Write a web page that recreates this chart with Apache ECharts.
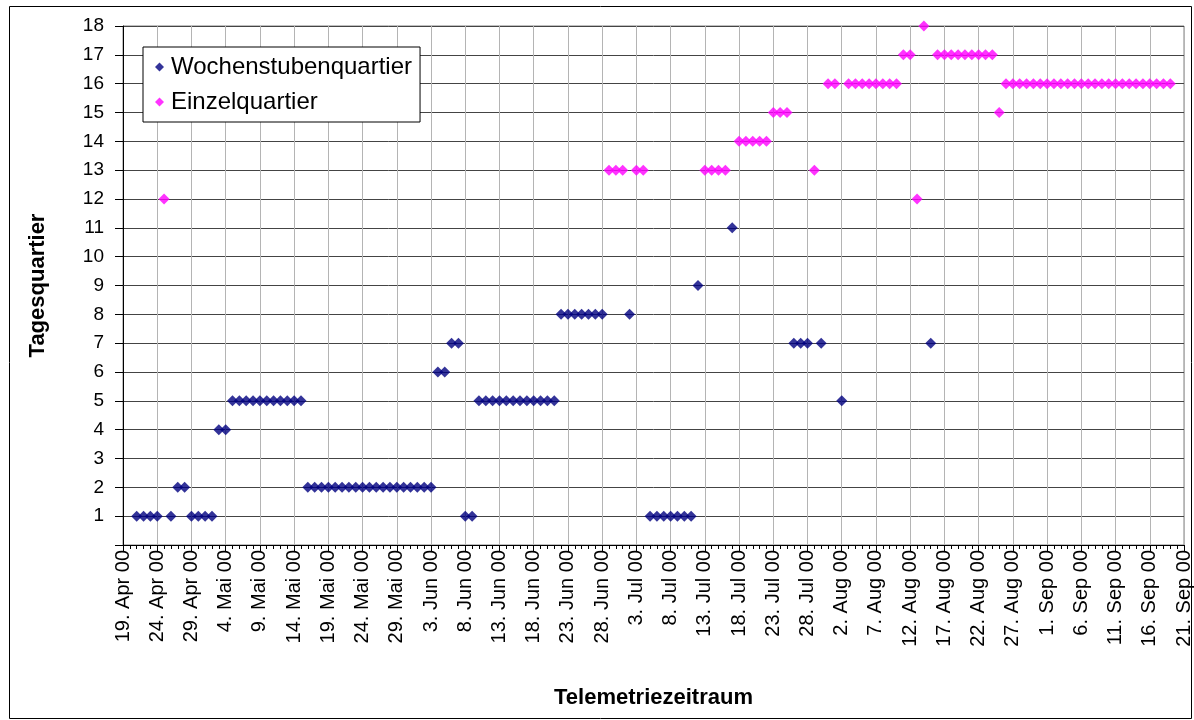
<!DOCTYPE html>
<html>
<head>
<meta charset="utf-8">
<script src="https://cdn.jsdelivr.net/npm/echarts@6/dist/echarts.min.js"></script>
<style>
html,body{margin:0;padding:0;background:#fff;}
#c{width:1194px;height:720px;}
</style>
</head>
<body>
<div id="c"></div>
<script>
// ---- data ----
const startDate = '2000-04-19';
const endDate = '2000-09-21';
const monthNames = ['Jan','Feb','Mär','Apr','Mai','Jun','Jul','Aug','Sep','Okt','Nov','Dez'];

const wochenDates = [
  '2000-04-21','2000-04-22','2000-04-23','2000-04-24','2000-04-26','2000-04-27','2000-04-28',
  '2000-04-29','2000-04-30','2000-05-01','2000-05-02','2000-05-03','2000-05-04',
  '2000-05-05','2000-05-06','2000-05-07','2000-05-08','2000-05-09','2000-05-10','2000-05-11',
  '2000-05-12','2000-05-13','2000-05-14','2000-05-15',
  '2000-05-16','2000-05-17','2000-05-18','2000-05-19','2000-05-20','2000-05-21','2000-05-22',
  '2000-05-23','2000-05-24','2000-05-25','2000-05-26','2000-05-27','2000-05-28','2000-05-29',
  '2000-05-30','2000-05-31','2000-06-01','2000-06-02','2000-06-03',
  '2000-06-04','2000-06-05','2000-06-06','2000-06-07','2000-06-08','2000-06-09',
  '2000-06-10','2000-06-11','2000-06-12','2000-06-13','2000-06-14','2000-06-15','2000-06-16',
  '2000-06-17','2000-06-18','2000-06-19','2000-06-20','2000-06-21',
  '2000-06-22','2000-06-23','2000-06-24','2000-06-25','2000-06-26','2000-06-27','2000-06-28',
  '2000-07-02',
  '2000-07-05','2000-07-06','2000-07-07','2000-07-08','2000-07-09','2000-07-10','2000-07-11',
  '2000-07-12','2000-07-17',
  '2000-07-26','2000-07-27','2000-07-28','2000-07-30','2000-08-02','2000-08-15'
];
const wochenValues = [
  1,1,1,1,1,2,2,
  1,1,1,1,4,4,
  5,5,5,5,5,5,5,
  5,5,5,5,
  2,2,2,2,2,2,2,
  2,2,2,2,2,2,2,
  2,2,2,2,2,
  6,6,7,7,1,1,
  5,5,5,5,5,5,5,
  5,5,5,5,5,
  8,8,8,8,8,8,8,
  8,
  1,1,1,1,1,1,1,
  9,11,
  7,7,7,7,5,7
];

const einzelDates = [
  '2000-04-25',
  '2000-06-29','2000-06-30','2000-07-01','2000-07-03','2000-07-04',
  '2000-07-13','2000-07-14','2000-07-15','2000-07-16',
  '2000-07-18','2000-07-19','2000-07-20','2000-07-21','2000-07-22',
  '2000-07-23','2000-07-24','2000-07-25','2000-07-29',
  '2000-07-31','2000-08-01',
  '2000-08-03','2000-08-04','2000-08-05','2000-08-06','2000-08-07','2000-08-08','2000-08-09','2000-08-10',
  '2000-08-11','2000-08-12','2000-08-13','2000-08-14',
  '2000-08-16','2000-08-17','2000-08-18','2000-08-19','2000-08-20','2000-08-21','2000-08-22','2000-08-23','2000-08-24',
  '2000-08-25',
  '2000-08-26','2000-08-27','2000-08-28','2000-08-29','2000-08-30','2000-08-31',
  '2000-09-01','2000-09-02','2000-09-03','2000-09-04','2000-09-05','2000-09-06','2000-09-07',
  '2000-09-08','2000-09-09','2000-09-10','2000-09-11','2000-09-12','2000-09-13','2000-09-14',
  '2000-09-15','2000-09-16','2000-09-17','2000-09-18','2000-09-19'
];
const einzelValues = [
  12,
  13,13,13,13,13,
  13,13,13,13,
  14,14,14,14,14,
  15,15,15,13,
  16,16,
  16,16,16,16,16,16,16,16,
  17,17,12,18,
  17,17,17,17,17,17,17,17,17,
  15,
  16,16,16,16,16,16,
  16,16,16,16,16,16,16,
  16,16,16,16,16,16,16,
  16,16,16,16,16
];

const yTicks = [0,1,2,3,4,5,6,7,8,9,10,11,12,13,14,15,16,17,18];

// ---- helpers ----
function toUTC(s){ const p = s.split('-').map(Number); return Date.UTC(p[0], p[1]-1, p[2]); }
const t0 = toUTC(startDate);
function dayIndex(s){ return Math.round((toUTC(s) - t0) / 86400000); }
function pairs(dates, vals){ return dates.map((d,i)=>[dayIndex(d), vals[i]]); }
function fmtDay(v){
  const d = new Date(t0 + v*86400000);
  return d.getUTCDate() + '. ' + monthNames[d.getUTCMonth()] + ' 00';
}

const FONT = '"Liberation Sans", Arial, sans-serif';
const chart = echarts.init(document.getElementById('c'), null, {renderer:'canvas'});
chart.setOption({
  backgroundColor:'#fff',
  animation:false,
  textStyle:{fontFamily:FONT},
  graphic:[{
    type:'rect', shape:{x:9.5, y:6.5, width:1182, height:712},
    style:{fill:'none', stroke:'#000', lineWidth:1}, silent:true, z:-10
  }],
  grid:{left:123, top:26, right:10, bottom:175, containLabel:false, outerBoundsMode:'none',
        show:true, borderColor:'#808080', borderWidth:1},
  legend:{
    orient:'vertical', left:143, top:47,
    backgroundColor:'#fff', borderColor:'#000', borderWidth:1, borderRadius:0,
    padding:[8,8,8,12], itemGap:11, itemWidth:9, itemHeight:9,
    textStyle:{fontSize:24, color:'#000', fontFamily:FONT, padding:[0,0,0,2]},
    data:[{name:'Wochenstubenquartier', icon:'diamond'},{name:'Einzelquartier', icon:'diamond'}]
  },
  xAxis:{
    type:'value', min:0, max:dayIndex(endDate), interval:5,
    name:'Telemetriezeitraum', nameLocation:'middle', nameGap:142,
    nameTextStyle:{fontSize:22, fontWeight:'bold', color:'#000', fontFamily:FONT},
    axisLine:{show:true, lineStyle:{color:'#000', width:1}},
    axisTick:{show:true, length:6, lineStyle:{color:'#000'}},
    minorTick:{show:true, splitNumber:5, length:4, lineStyle:{color:'#000'}},
    axisLabel:{rotate:90, fontSize:20, color:'#000', margin:5, formatter:fmtDay, fontFamily:FONT,
               showMinLabel:true, showMaxLabel:true},
    splitLine:{show:true, lineStyle:{color:'#b4b4b4', width:1}}
  },
  yAxis:{
    type:'value', min:yTicks[0], max:yTicks[yTicks.length-1], interval:1,
    name:'Tagesquartier', nameLocation:'middle', nameGap:74, nameRotate:90,
    nameTextStyle:{fontSize:22, fontWeight:'bold', color:'#000', fontFamily:FONT},
    axisLine:{show:true, lineStyle:{color:'#000', width:1}},
    axisTick:{show:true, length:8, lineStyle:{color:'#000'}},
    axisLabel:{fontSize:19, color:'#000', margin:19, fontFamily:FONT,
               formatter:function(v){ return v===0 ? '' : String(v); }},
    splitLine:{show:true, lineStyle:{color:'#444', width:1}}
  },
  series:[
    {name:'Wochenstubenquartier', type:'scatter', symbol:'diamond', symbolSize:11,
     itemStyle:{color:'#000080'}, data:pairs(wochenDates, wochenValues)},
    {name:'Einzelquartier', type:'scatter', symbol:'diamond', symbolSize:11,
     itemStyle:{color:'#FF00FF'}, data:pairs(einzelDates, einzelValues)}
  ]
});
</script>
</body>
</html>
